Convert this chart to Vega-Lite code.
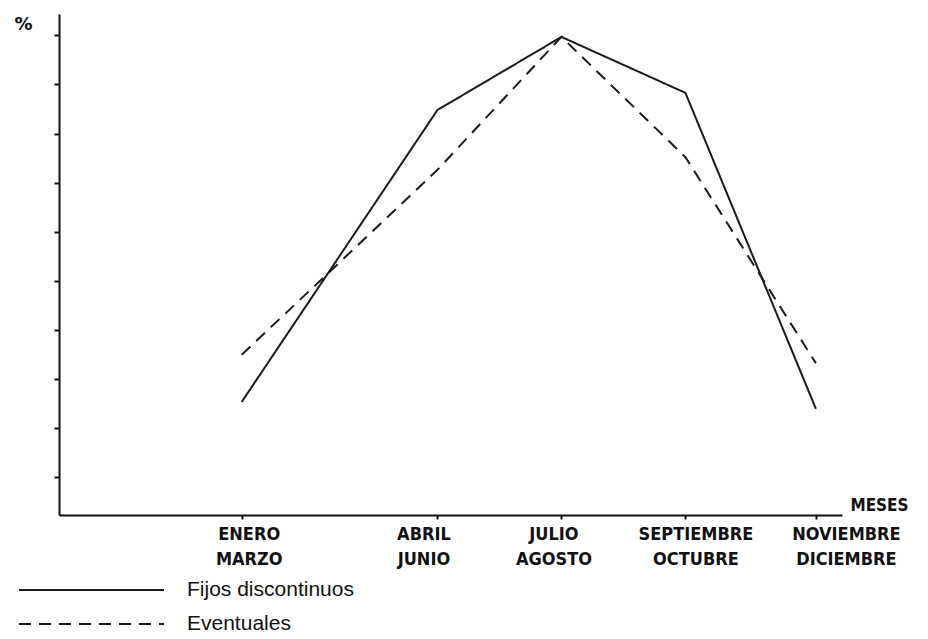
{
  "$schema": "https://vega.github.io/schema/vega-lite/v6.json",
  "autosize": {"type": "none"},
  "padding": {"left": 59, "top": 14, "right": 86, "bottom": 124},
  "width": 783,
  "height": 501,
  "background": "white",
  "config": {"view": {"stroke": null}},
  "data": {
    "values": [
      {"mes": 2.8, "serie": "Fijos discontinuos", "valor": 1.53},
      {"mes": 5.8, "serie": "Fijos discontinuos", "valor": 7.48},
      {"mes": 7.7, "serie": "Fijos discontinuos", "valor": 8.97},
      {"mes": 9.6, "serie": "Fijos discontinuos", "valor": 7.83},
      {"mes": 11.6, "serie": "Fijos discontinuos", "valor": 1.39},
      {"mes": 2.8, "serie": "Eventuales", "valor": 2.49},
      {"mes": 5.8, "serie": "Eventuales", "valor": 6.26},
      {"mes": 7.7, "serie": "Eventuales", "valor": 8.97},
      {"mes": 9.6, "serie": "Eventuales", "valor": 6.52},
      {"mes": 11.6, "serie": "Eventuales", "valor": 2.32}
    ]
  },
  "mark": {"type": "line", "color": "#1a1a1a", "strokeWidth": 2},
  "encoding": {
    "x": {
      "field": "mes",
      "type": "quantitative",
      "scale": {"domain": [0, 12], "nice": false, "zero": false},
      "axis": {
        "values": [2.8, 5.8, 7.7, 9.6, 11.6],
        "grid": false,
        "domainColor": "#111",
        "domainWidth": 2,
        "tickColor": "#111",
        "tickWidth": 2,
        "tickSize": 4,
        "labelExpr": "datum.value < 4 ? ['ENERO','MARZO'] : datum.value < 7 ? ['ABRIL','JUNIO'] : datum.value < 9 ? ['JULIO','AGOSTO'] : datum.value < 11 ? ['SEPTIEMBRE','OCTUBRE'] : ['NOVIEMBRE','DICIEMBRE']",
        "labelFont": "DejaVu Sans Condensed",
        "labelFontWeight": "bold",
        "labelFontSize": 18,
        "labelColor": "#111",
        "labelLineHeight": 25,
        "labelPadding": 6,
        "labelBaseline": "top",
        "labelFlush": false,
        "labelOverlap": false,
        "labelOffset": {
          "condition": [
            {"test": "datum.value < 4", "value": 7},
            {"test": "datum.value < 7", "value": -14},
            {"test": "datum.value < 9", "value": -8},
            {"test": "datum.value < 11", "value": 10}
          ],
          "value": 30
        },
        "title": "MESES",
        "titleFont": "DejaVu Sans Condensed",
        "titleFontWeight": "bold",
        "titleFontSize": 17,
        "titleColor": "#111",
        "titleX": 820,
        "titleY": -10,
        "titleAlign": "center",
        "titleBaseline": "middle"
      }
    },
    "y": {
      "field": "valor",
      "type": "quantitative",
      "scale": {"domain": [-0.775, 9.437], "nice": false, "zero": false},
      "axis": {
        "values": [0, 1, 2, 3, 4, 5, 6, 7, 8, 9],
        "grid": false,
        "labels": false,
        "domainColor": "#111",
        "domainWidth": 2,
        "tickColor": "#111",
        "tickWidth": 2,
        "tickSize": 5,
        "title": "%",
        "titleFont": "DejaVu Sans",
        "titleFontWeight": "bold",
        "titleFontSize": 18,
        "titleColor": "#111",
        "titleAngle": 0,
        "titleX": -36,
        "titleY": 10,
        "titleAlign": "center",
        "titleBaseline": "middle"
      }
    },
    "strokeDash": {
      "field": "serie",
      "type": "nominal",
      "scale": {"domain": ["Fijos discontinuos", "Eventuales"], "range": [[1, 0], [12, 8]]},
      "legend": {
        "title": null,
        "orient": "none",
        "legendX": -41,
        "legendY": 566,
        "padding": 0,
        "symbolType": "stroke",
        "symbolSize": 21025,
        "symbolStrokeWidth": 2,
        "symbolStrokeColor": "#1a1a1a",
        "clipHeight": 20,
        "rowPadding": 13,
        "labelOffset": 22,
        "labelFont": "Liberation Sans",
        "labelFontSize": 21,
        "labelColor": "#111",
        "labelLimit": 400
      }
    }
  }
}
